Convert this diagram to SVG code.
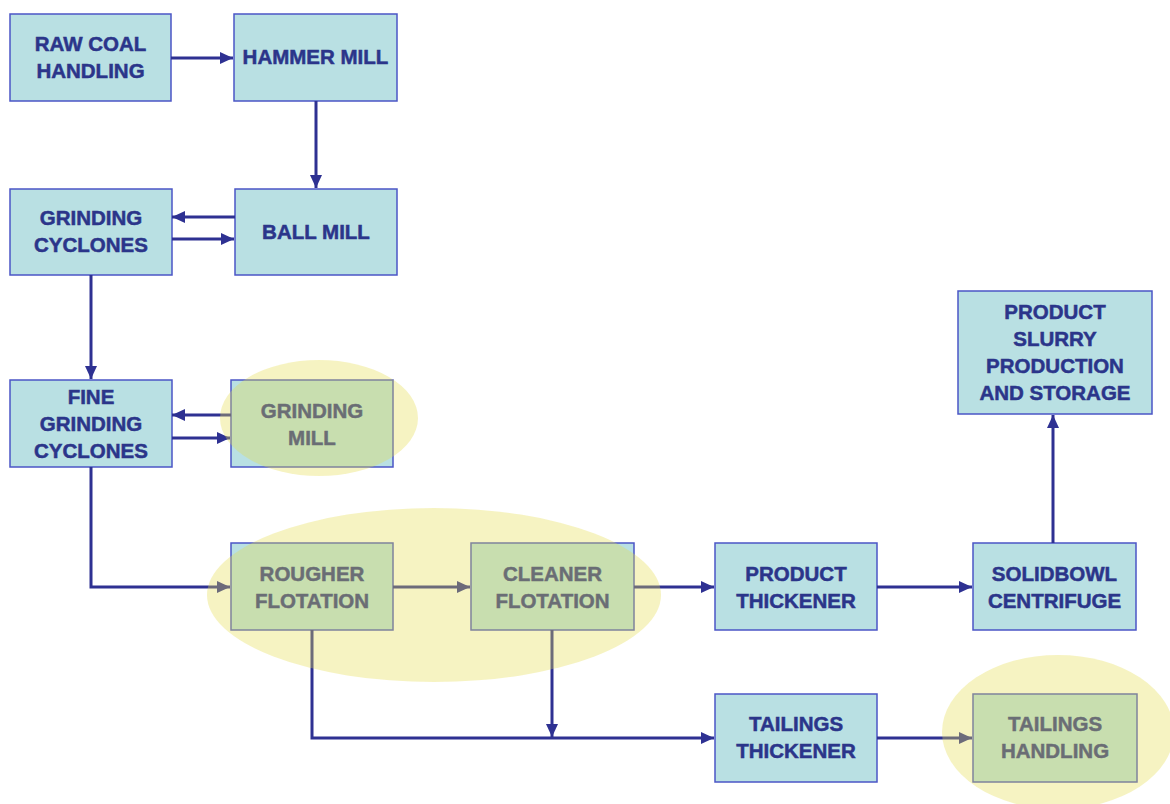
<svg xmlns="http://www.w3.org/2000/svg" width="1170" height="804" viewBox="0 0 1170 804">
<style>
.box{fill:#b9e0e3;stroke:#4b56c6;stroke-width:1.5}
.lbl{font-family:"Liberation Sans",Arial,sans-serif;font-weight:bold;font-size:20.5px;fill:#2b358a;stroke:#2b358a;stroke-width:0.5;text-anchor:middle}
.con{fill:none;stroke:#2e3192;stroke-width:3}
.hl{fill:#e6dd4c;fill-opacity:0.34}
</style>
<defs>
<marker id="ah" markerUnits="userSpaceOnUse" markerWidth="13" markerHeight="12" refX="13" refY="6" orient="auto">
<path d="M0,0 L13,6 L0,12 z" fill="#2e3192"/>
</marker>
</defs>
<rect width="1170" height="804" fill="#ffffff"/>
<g id="raw-coal"><rect class="box" x="10" y="14" width="161" height="87"/><text class="lbl" x="90.5" y="51">RAW COAL</text><text class="lbl" x="90.5" y="78">HANDLING</text></g>
<g id="hammer-mill"><rect class="box" x="234" y="14" width="163" height="87"/><text class="lbl" x="315.5" y="64">HAMMER MILL</text></g>
<g id="ball-mill"><rect class="box" x="235" y="189" width="162" height="86"/><text class="lbl" x="316" y="239">BALL MILL</text></g>
<g id="grinding-cyclones"><rect class="box" x="10" y="189" width="162" height="86"/><text class="lbl" x="91" y="225">GRINDING</text><text class="lbl" x="91" y="252">CYCLONES</text></g>
<g id="fine-grinding-cyclones"><rect class="box" x="10" y="380" width="162" height="87"/><text class="lbl" x="91" y="404">FINE</text><text class="lbl" x="91" y="431">GRINDING</text><text class="lbl" x="91" y="458">CYCLONES</text></g>
<g id="grinding-mill"><rect class="box" x="231" y="380" width="162" height="87"/><text class="lbl" x="312" y="418">GRINDING</text><text class="lbl" x="312" y="445">MILL</text></g>
<g id="rougher-flotation"><rect class="box" x="231" y="543" width="162" height="87"/><text class="lbl" x="312" y="581">ROUGHER</text><text class="lbl" x="312" y="608">FLOTATION</text></g>
<g id="cleaner-flotation"><rect class="box" x="471" y="543" width="163" height="87"/><text class="lbl" x="552.5" y="581">CLEANER</text><text class="lbl" x="552.5" y="608">FLOTATION</text></g>
<g id="product-thickener"><rect class="box" x="715" y="543" width="162" height="87"/><text class="lbl" x="796" y="581">PRODUCT</text><text class="lbl" x="796" y="608">THICKENER</text></g>
<g id="solidbowl-centrifuge"><rect class="box" x="973" y="543" width="163" height="87"/><text class="lbl" x="1054.5" y="581">SOLIDBOWL</text><text class="lbl" x="1054.5" y="608">CENTRIFUGE</text></g>
<g id="product-slurry"><rect class="box" x="958" y="291" width="194" height="123"/><text class="lbl" x="1055" y="319">PRODUCT</text><text class="lbl" x="1055" y="346">SLURRY</text><text class="lbl" x="1055" y="373">PRODUCTION</text><text class="lbl" x="1055" y="400">AND STORAGE</text></g>
<g id="tailings-thickener"><rect class="box" x="715" y="694" width="162" height="88"/><text class="lbl" x="796" y="731">TAILINGS</text><text class="lbl" x="796" y="758">THICKENER</text></g>
<g id="tailings-handling"><rect class="box" x="973" y="694" width="164" height="88"/><text class="lbl" x="1055" y="731">TAILINGS</text><text class="lbl" x="1055" y="758">HANDLING</text></g>
<g id="connectors">
<path class="con" d="M171 58 H233" marker-end="url(#ah)"/>
<path class="con" d="M316 101 V188" marker-end="url(#ah)"/>
<path class="con" d="M235 217 H172" marker-end="url(#ah)"/>
<path class="con" d="M172 239 H234" marker-end="url(#ah)"/>
<path class="con" d="M91 275 V379" marker-end="url(#ah)"/>
<path class="con" d="M231 415 H172" marker-end="url(#ah)"/>
<path class="con" d="M172 438 H230" marker-end="url(#ah)"/>
<path class="con" d="M91 467 V587 H230" marker-end="url(#ah)"/>
<path class="con" d="M393 587 H470" marker-end="url(#ah)"/>
<path class="con" d="M634 587 H714" marker-end="url(#ah)"/>
<path class="con" d="M877 587 H972" marker-end="url(#ah)"/>
<path class="con" d="M1053 543 V415" marker-end="url(#ah)"/>
<path class="con" d="M312 630 V738 H714" marker-end="url(#ah)"/>
<path class="con" d="M552 630 V737" marker-end="url(#ah)"/>
<path class="con" d="M877 738 H972" marker-end="url(#ah)"/>
</g>
<g id="highlights">
<ellipse class="hl" cx="319" cy="418" rx="99" ry="58"/>
<ellipse class="hl" cx="434" cy="595" rx="227" ry="87"/>
<ellipse class="hl" cx="1058" cy="732" rx="116" ry="77"/>
</g>
</svg>
